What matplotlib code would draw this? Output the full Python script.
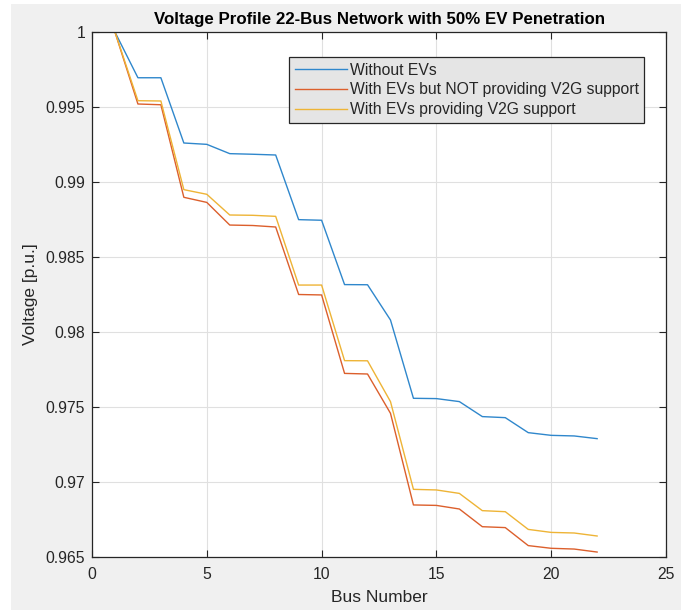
import matplotlib
matplotlib.use('Agg')
import matplotlib.pyplot as plt
from matplotlib.patches import Rectangle
import numpy as np

plt.rcParams['font.family'] = ['Liberation Sans', 'DejaVu Sans']

bus = np.arange(1, 23)

v_no_ev = [1.0, 0.99695, 0.99695, 0.9926, 0.99251, 0.99189, 0.99185, 0.9918,
           0.98749, 0.98745, 0.98316, 0.98315, 0.9808, 0.97558, 0.97556, 0.97536,
           0.97436, 0.97429, 0.97329, 0.97311, 0.97307, 0.97289]
v_ev_no_v2g = [1.0, 0.9952, 0.99515, 0.98898, 0.98864, 0.98713, 0.9871, 0.987,
               0.9825, 0.98247, 0.97724, 0.9772, 0.97458, 0.96847, 0.96844, 0.9682,
               0.96702, 0.96696, 0.96576, 0.96558, 0.96553, 0.96533]
v_ev_v2g = [1.0, 0.99542, 0.9954, 0.98949, 0.98918, 0.9878, 0.98778, 0.98771,
            0.98313, 0.98313, 0.97809, 0.97808, 0.97536, 0.96951, 0.96947, 0.96924,
            0.96809, 0.96802, 0.96684, 0.96664, 0.9666, 0.9664]

labels = ['Without EVs',
          'With EVs but NOT providing V2G support',
          'With EVs providing V2G support']
colors = ['#2f87cc', '#dc5f2c', '#eeb436']

txt = '#262626'

fig = plt.figure(figsize=(6.81, 6.10), dpi=100, facecolor='white')
# grey figure background with a thin white margin on the left and top
fig.patches.append(Rectangle((11 / 681, 0), 1 - 11 / 681, 1 - 4 / 610,
                             transform=fig.transFigure, facecolor='#f0f0f0',
                             edgecolor='none', zorder=-10))

ax = fig.add_axes([92 / 681, 53 / 610, 574 / 681, 525 / 610])
ax.set_facecolor('white')

for y, lab, c in zip([v_no_ev, v_ev_no_v2g, v_ev_v2g], labels, colors):
    ax.plot(bus, y, color=c, lw=1.0, label=lab)

ax.set_xlim(0, 25)
ax.set_ylim(0.965, 1.0)
ax.set_xticks(np.arange(0, 26, 5))
ax.set_yticks([0.965, 0.97, 0.975, 0.98, 0.985, 0.99, 0.995, 1.0])
ax.set_yticklabels(['0.965', '0.97', '0.975', '0.98', '0.985', '0.99', '0.995', '1'])

ax.grid(True, color='#e0e0e0', lw=0.8)
ax.set_axisbelow(True)
ax.tick_params(direction='in', top=True, right=True, length=5, width=0.8,
               colors=txt, labelsize=11.3)
ax.tick_params(axis='x', pad=7)
ax.tick_params(axis='y', pad=5)
for s in ax.spines.values():
    s.set_color(txt)
    s.set_linewidth(0.9)

ax.set_xlabel('Bus Number', fontsize=12.5, color=txt, labelpad=6)
ax.set_ylabel('Voltage [p.u.]', fontsize=12.5, color=txt, labelpad=5)
ax.set_title('Voltage Profile 22-Bus Network with 50% EV Penetration',
             fontsize=12.2, fontweight='bold', color='black', pad=6)

leg = ax.legend(loc='upper right', bbox_to_anchor=(0.962, 0.952), fontsize=11.3,
                frameon=True, fancybox=False, facecolor='#e5e5e5', edgecolor=txt,
                framealpha=1, handlelength=3.3, handletextpad=0.2,
                borderpad=0.35, labelspacing=0.3, borderaxespad=0)
leg.get_frame().set_linewidth(0.9)
for t in leg.get_texts():
    t.set_color(txt)

fig.savefig('out.png', dpi=100, facecolor=fig.get_facecolor())
